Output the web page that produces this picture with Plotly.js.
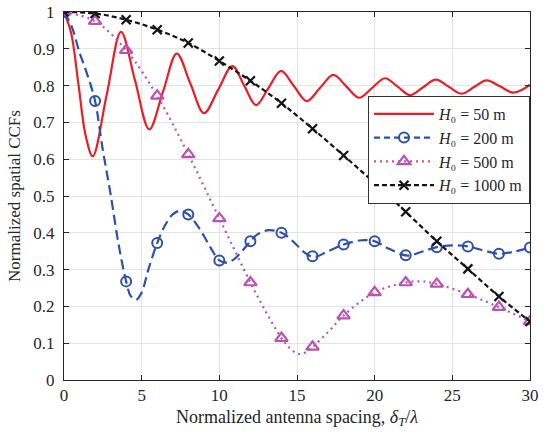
<!DOCTYPE html>
<html>
<head>
<meta charset="utf-8">
<script src="https://cdn.plot.ly/plotly-3.0.1.min.js"></script>
<style>html,body{margin:0;padding:0;background:#fff;}#chart{width:548px;height:434px;}</style>
</head>
<body>
<div id="chart"></div>
<script>
// H0 = 50 m (smooth line)
const x50 = [0,0.46,0.93,1.39,1.85,2.76,3.67,4.58,5.49,6.38,7.26,8.14,9.01,9.93,10.84,11.6,12.36,13.17,13.97,14.8,15.63,16.49,17.34,18.17,19.0,19.84,20.67,21.48,22.28,23.1,23.93,24.77,25.6,26.4,27.2,28.07,28.93,30];
const y50 = [1.0,0.943,0.804,0.665,0.608,0.777,0.946,0.813,0.681,0.784,0.887,0.805,0.725,0.789,0.853,0.80,0.747,0.794,0.840,0.799,0.758,0.794,0.829,0.798,0.767,0.794,0.820,0.797,0.774,0.795,0.816,0.797,0.778,0.796,0.814,0.798,0.781,0.802];

// H0 = 200 m (line)
const x200 = [0,0.5,1,1.5,2,2.5,3,3.5,4,4.3,4.64,5,5.43,6,6.5,7,7.5,8,8.5,9,9.5,10,10.47,11,11.5,12,12.5,13.2,14,14.5,15,15.5,16.1,17,18,19,19.5,20,21,22.1,23,24,25,26,27,28,29,30];
const y200 = [1.0,0.96,0.89,0.83,0.758,0.625,0.505,0.372,0.268,0.228,0.218,0.238,0.30,0.372,0.42,0.45,0.46,0.450,0.425,0.392,0.355,0.325,0.319,0.33,0.352,0.377,0.397,0.407,0.400,0.386,0.366,0.346,0.334,0.35,0.368,0.379,0.380,0.377,0.355,0.338,0.348,0.361,0.366,0.363,0.352,0.343,0.349,0.360];

// H0 = 500 m (line)
const x500 = [0,2,4,6,8,10,12,13,14,14.5,15.1,15.5,16,17,18,20,22,23,24,26,28,30];
const y500 = [1.0,0.975,0.896,0.772,0.613,0.439,0.265,0.185,0.114,0.088,0.071,0.074,0.090,0.130,0.175,0.238,0.265,0.268,0.261,0.233,0.198,0.159];

// marker positions (every 2 units)
const xm = [0,2,4,6,8,10,12,14,16,18,20,22,24,26,28,30];
const ym200 = [1.0,0.758,0.268,0.372,0.450,0.325,0.377,0.400,0.336,0.368,0.377,0.339,0.361,0.363,0.343,0.360];
const ym500 = [1.0,0.975,0.896,0.772,0.613,0.439,0.265,0.114,0.090,0.175,0.238,0.265,0.261,0.233,0.198,0.159];

// H0 = 1000 m
const y1000 = [1.0,0.996,0.979,0.952,0.916,0.867,0.813,0.752,0.683,0.610,0.535,0.457,0.377,0.302,0.227,0.159];

const names = ['<i>H</i>\u2080 = 50 m','<i>H</i>\u2080 = 200 m','<i>H</i>\u2080 = 500 m','<i>H</i>\u2080 = 1000 m'];

const cRed = 'rgb(234,30,40)', cBlue = 'rgb(45,80,168)', cMag = 'rgb(186,82,176)', cBlk = 'rgb(20,20,20)';
const SERIF = 'Liberation Serif';

const traces = [
  {x:x50, y:y50, mode:'lines', line:{color:cRed, width:2.2, shape:'spline'}, name:names[0], showlegend:true},
  {x:x200, y:y200, mode:'lines', line:{color:cBlue, width:2.2, dash:'10px,5px', shape:'spline'}, showlegend:false, hoverinfo:'skip'},
  {x:xm, y:ym200, mode:'markers', marker:{symbol:'circle-open', size:10, color:cBlue, line:{width:2, color:cBlue}}, showlegend:false},
  {x:x500, y:y500, mode:'lines', line:{color:cMag, width:2.2, dash:'2px,4px', shape:'spline'}, showlegend:false, hoverinfo:'skip'},
  {x:xm, y:ym500, mode:'markers', marker:{symbol:'triangle-up-open', size:11, color:cMag, line:{width:2.2, color:cMag}}, showlegend:false},
  {x:xm, y:y1000, mode:'lines+markers', line:{color:cBlk, width:2.2, dash:'5px,3px', shape:'spline'}, marker:{symbol:'x-thin-open', size:9, color:cBlk, line:{width:2.2, color:cBlk}}, showlegend:false},
  // legend entries
  {x:[null], y:[null], mode:'lines+markers', line:{color:cBlue, width:2.2, dash:'6px,4px'}, marker:{symbol:'circle-open', size:10, color:cBlue, line:{width:2, color:cBlue}}, name:names[1]},
  {x:[null], y:[null], mode:'lines+markers', line:{color:cMag, width:2.2, dash:'2px,4px'}, marker:{symbol:'triangle-up-open', size:11, color:cMag, line:{width:2.2, color:cMag}}, name:names[2]},
  {x:[null], y:[null], mode:'lines+markers', line:{color:cBlk, width:2.2, dash:'5px,3px'}, marker:{symbol:'x-thin-open', size:9, color:cBlk, line:{width:2.2, color:cBlk}}, name:names[3]}
];

const axisCommon = {
  showline:true, linecolor:'#262626', linewidth:1, mirror:'ticks',
  ticks:'inside', ticklen:5, tickcolor:'#262626',
  showgrid:true, gridcolor:'#e3e3e3', gridwidth:1, zeroline:false,
  tickfont:{family:SERIF, size:17, color:'#262626'}
};

const layout = {
  width:548, height:434,
  margin:{l:64, r:18, t:12, b:54},
  paper_bgcolor:'#fff', plot_bgcolor:'#fff',
  font:{family:SERIF, color:'#262626'},
  xaxis: Object.assign({}, axisCommon, {
    range:[0,30], tickvals:[0,5,10,15,20,25,30],
    title:{text:'Normalized antenna spacing, <i>δ</i><sub><i>T</i></sub>/<i>λ</i>', font:{family:SERIF, size:18, color:'#262626'}, standoff:5}
  }),
  yaxis: Object.assign({}, axisCommon, {
    range:[0,1], tickvals:[0,0.1,0.2,0.3,0.4,0.5,0.6,0.7,0.8,0.9,1],
    ticktext:['0','0.1','0.2','0.3','0.4','0.5','0.6','0.7','0.8','0.9','1'],
    ticklabelstandoff:5,
    title:{text:'Normalized spatial CCFs', font:{family:SERIF, size:17, color:'#262626'}, standoff:8}
  }),
  legend:{
    x:1, y:0.772, xanchor:'right', yanchor:'top',
    bgcolor:'#fff', bordercolor:'#333', borderwidth:1,
    font:{family:SERIF, size:16, color:'#262626'},
    itemwidth:60, tracegroupgap:0
  },
  showlegend:true
};

Plotly.newPlot('chart', traces, layout, {displayModeBar:false, staticPlot:true});
</script>
</body>
</html>
